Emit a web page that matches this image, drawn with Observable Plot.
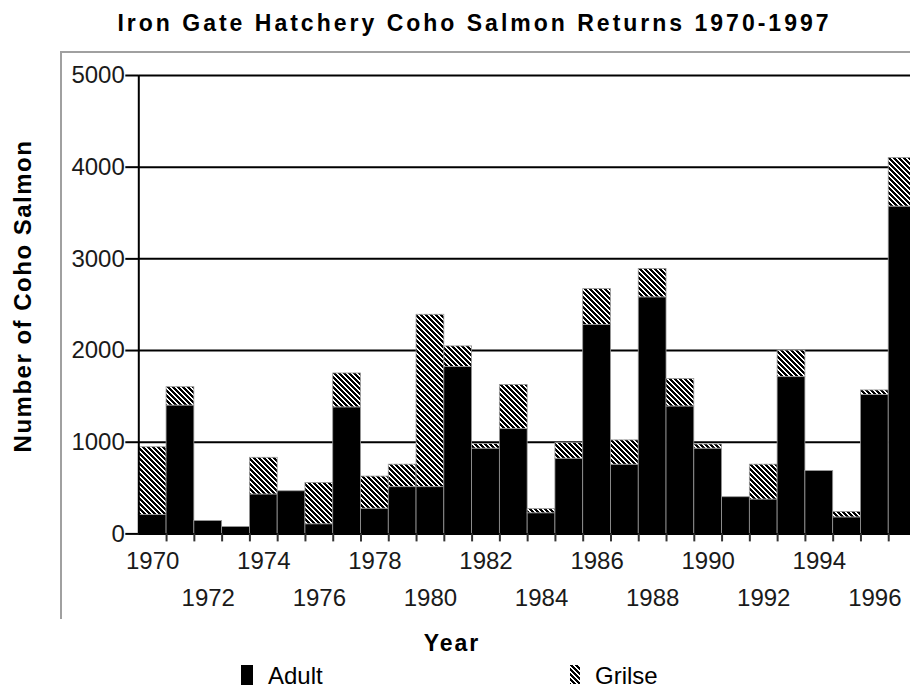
<!DOCTYPE html>
<html>
<head>
<meta charset="utf-8">
<script src="https://cdn.jsdelivr.net/npm/d3@7"></script>
<script src="https://cdn.jsdelivr.net/npm/@observablehq/plot@0.6"></script>
<style>
  html, body { margin: 0; padding: 0; background: #fff; }
  #wrap { position: relative; width: 910px; height: 693px; overflow: hidden;
          font-family: "Liberation Sans", Arial, Helvetica, sans-serif; color: #000; }
  #frame { position: absolute; left: 60px; top: 51px; width: 870px; height: 566px;
           border-left: 2px solid #a0a0a0; border-top: 2px solid #a0a0a0; }
  #chart { position: absolute; left: 0; top: 0; }
  .t { position: absolute; white-space: nowrap; }
  #title { left: 0; width: 949px; top: 12px; text-align: center; font-weight: bold;
           font-size: 23px; line-height: 23px; letter-spacing: 3px; }
  #ylabel { left: -177px; width: 400px; top: 281px; height: 30px; line-height: 30px; text-align: center;
            font-weight: bold; font-size: 24px; letter-spacing: 1.5px; transform: rotate(-90deg); }
  #xlabel { left: 302px; width: 300px; top: 628px; line-height: 30px; text-align: center;
            font-weight: bold; font-size: 23px; letter-spacing: 2px; }
  .leg { top: 661px; line-height: 30px; font-size: 24px; }
</style>
</head>
<body>
<svg width="0" height="0" style="position:absolute">
  <defs>
    <pattern id="hatch" patternUnits="userSpaceOnUse" width="5" height="5" shape-rendering="crispEdges">
      <rect width="5" height="5" fill="white"></rect>
      <rect x="0" y="0" width="3" height="1" fill="black"></rect>
      <rect x="1" y="1" width="3" height="1" fill="black"></rect>
      <rect x="2" y="2" width="3" height="1" fill="black"></rect>
      <rect x="3" y="3" width="2" height="1" fill="black"></rect>
      <rect x="0" y="3" width="1" height="1" fill="black"></rect>
      <rect x="4" y="4" width="1" height="1" fill="black"></rect>
      <rect x="0" y="4" width="2" height="1" fill="black"></rect>
    </pattern>
  </defs>
</svg>
<div id="wrap">
  <div id="frame"></div>
  <div id="title" class="t">Iron Gate Hatchery Coho Salmon Returns 1970-1997</div>
  <div id="ylabel" class="t">Number of Coho Salmon</div>
  <div id="xlabel" class="t">Year</div>
  <div class="t" style="left:241px;top:665px;width:12px;height:20px;background:#000"></div>
  <div class="t leg" style="left:268px">Adult</div>
  <svg class="t" style="left:570px;top:665px" width="10" height="19"><rect width="10" height="19" fill="url(#hatch)" shape-rendering="crispEdges"></rect></svg>
  <div class="t leg" style="left:595px">Grilse</div>
</div>
<script>
// ---- data ----
const years  = [1970,1971,1972,1973,1974,1975,1976,1977,1978,1979,1980,1981,1982,1983,
                1984,1985,1986,1987,1988,1989,1990,1991,1992,1993,1994,1995,1996,1997];
const adult  = [205,1400,140,75,430,465,105,1380,275,510,510,1820,930,1145,
                225,820,2280,755,2580,1390,930,400,375,1710,685,180,1515,3570];
const grilse = [740,200,0,0,400,0,450,370,350,245,1880,225,50,480,
                45,170,390,265,310,300,45,0,380,290,0,60,50,530];
const series = ["Adult", "Grilse"];
const seriesFill = ["black", "url(#hatch)"];
const yTicks = [0,1000,2000,3000,4000,5000];
const labelYearsRow1 = [1970,1974,1978,1982,1986,1990,1994];
const labelYearsRow2 = [1972,1976,1980,1984,1988,1992,1996];

const rows = [];
years.forEach((yr, i) => {
  rows.push({year: yr, type: "Adult", value: adult[i]});
  rows.push({year: yr, type: "Grilse", value: grilse[i]});
});
const boundaries = years.slice(1);

const chart = Plot.plot({
  width: 910,
  height: 693,
  marginTop: 75,
  marginBottom: 159.6,
  marginLeft: 138.3,
  marginRight: 0,
  style: {fontFamily: "'Liberation Sans', Arial, sans-serif", fontSize: "24px", background: "transparent", color: "black", overflow: "visible"},
  x: {domain: [years[0], years[years.length - 1] + 1], range: [138.3, 916], axis: null},
  y: {domain: [yTicks[0], yTicks[yTicks.length - 1]], axis: null},
  color: {domain: series, range: seriesFill},
  marks: [
    Plot.gridY(yTicks, {stroke: "black", strokeOpacity: 1, strokeWidth: 2}),
    Plot.axisY({ticks: yTicks, tickSize: 13, tickPadding: 1, fontSize: 24, label: null,
                tickFormat: d => String(d),
                stroke: "black", strokeWidth: 2, fill: "#1a1a1a"}),
    Plot.rectY(rows, {x1: d => d.year, x2: d => d.year + 1, y: "value", fill: "type",
                      stroke: "#999", strokeWidth: 0.8}),
    Plot.ruleY([yTicks[0]], {stroke: "black", strokeWidth: 2}),
    Plot.ruleX([years[0]], {stroke: "black", strokeWidth: 2}),
    Plot.axisX({ticks: boundaries, tickSize: 8, tickFormat: () => "", label: null,
                stroke: "#333", strokeWidth: 2}),
    Plot.text(labelYearsRow1, {x: d => d + 0.5, y: () => 0, dy: 27.6, text: d => String(d),
                               fontSize: 24, fill: "#1a1a1a"}),
    Plot.text(labelYearsRow2, {x: d => d + 0.5, y: () => 0, dy: 64.6, text: d => String(d),
                               fontSize: 24, fill: "#1a1a1a"})
  ]
});
chart.id = "chart";
document.getElementById("wrap").insertBefore(chart, document.getElementById("title"));
</script>
</body>
</html>
